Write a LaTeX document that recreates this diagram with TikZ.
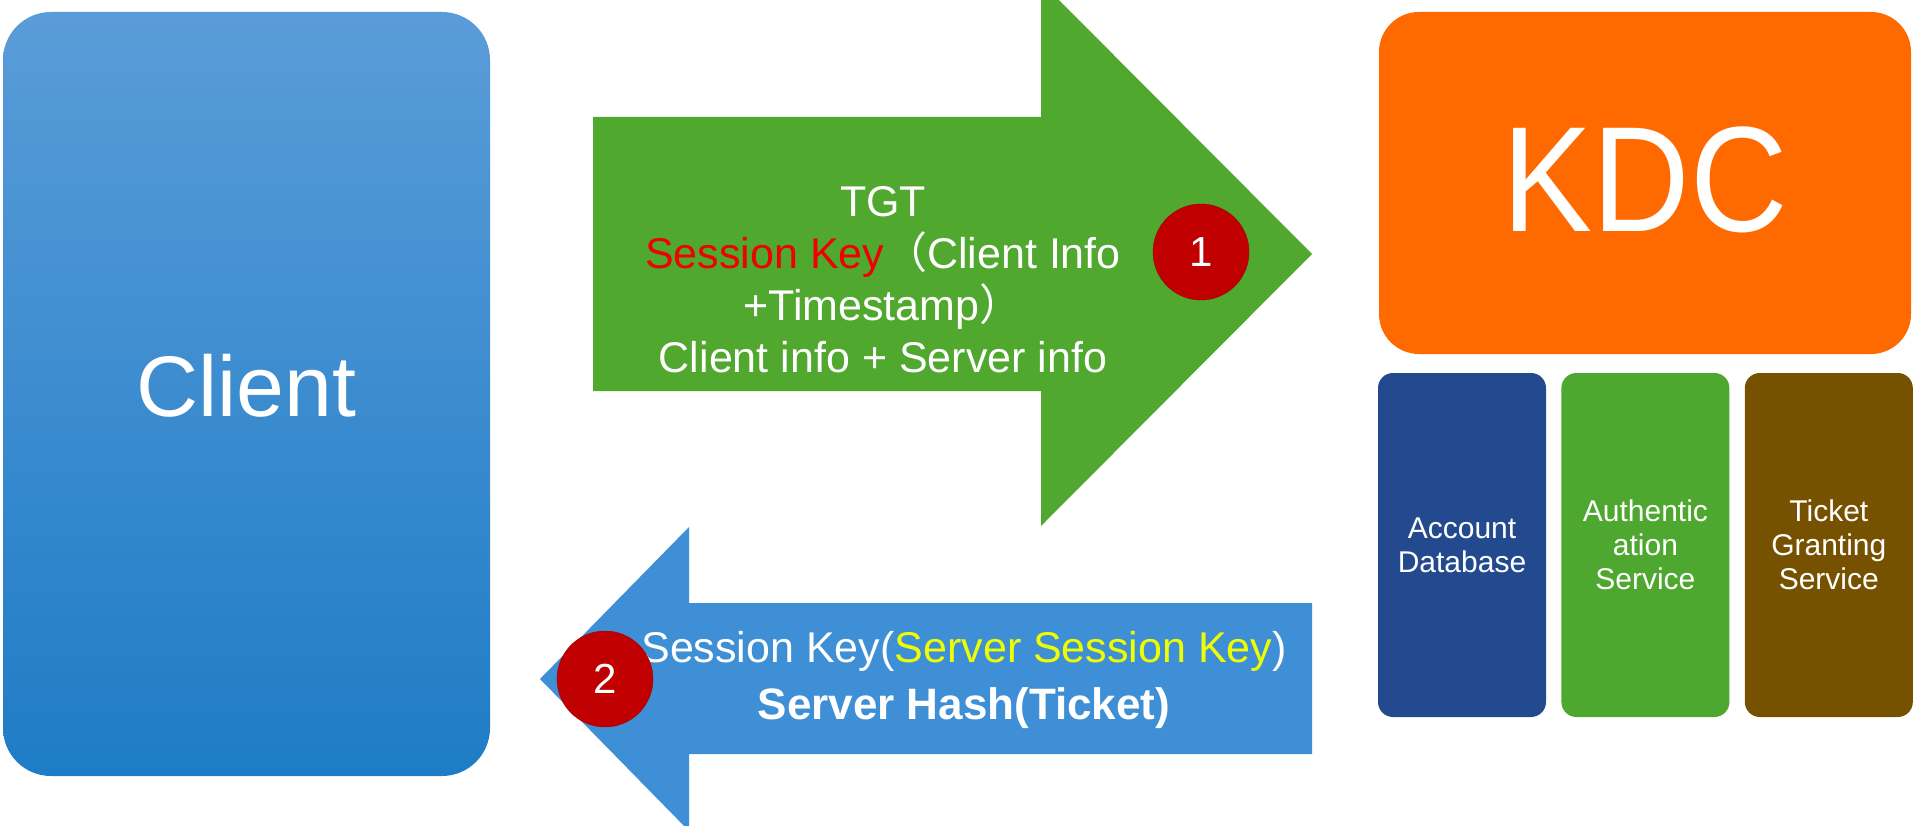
\documentclass[tikz,border=0pt]{standalone}
\usepackage{fontspec}
\setmainfont{Liberation Sans}
\newfontfamily\cjk{Noto Sans CJK SC}
\usetikzlibrary{positioning}
\usetikzlibrary{calc}

\definecolor{clienttop}{HTML}{5A9CD8}
\definecolor{clientbot}{HTML}{1E7CC6}
\definecolor{reqgreen}{HTML}{50A82E}
\definecolor{repblue}{HTML}{3E8FD6}
\definecolor{badgered}{HTML}{C00000}
\definecolor{kdcorange}{HTML}{FF6A00}
\definecolor{dbblue}{HTML}{234A8F}
\definecolor{asgreen}{HTML}{4EA72E}
\definecolor{tgsbrown}{HTML}{765200}
\definecolor{keyred}{HTML}{F00000}
\definecolor{keyyellow}{HTML}{F0FF00}

\tikzset{
  part/.style={rectangle, rounded corners=15pt, minimum width=168pt, minimum height=344pt,
    inner sep=0pt, text=white, align=center, font=\fontsize{30}{34}\selectfont},
  badge/.style={circle, fill=badgered, draw=badgered!85!black, minimum size=96pt,
    inner sep=0pt, text=white, font=\fontsize{42}{44}\selectfont},
  msg/.style={text=white, align=center, inner sep=0pt}
}

\begin{document}
\begin{tikzpicture}[x=1pt, y=-1pt]
  \useasboundingbox (0,0) rectangle (1932,826);
  \clip (0,0) rectangle (1932,826);
  \fill[white] (0,0) rectangle (1932,826);

    %----------------------------------------------------------
    % Client and KDC
    %----------------------------------------------------------
  \node[rectangle, rounded corners=48pt, top color=clienttop, bottom color=clientbot,
    minimum width=487pt, minimum height=764pt, inner sep=0pt] (client) at (246.5,394) {};
  \node[text=white, font=\fontsize{86}{100}\selectfont, inner sep=0pt]
    (clientname) at ([yshift=8pt]client.center) {Client};

  \node[rectangle, rounded corners=40pt, fill=kdcorange, minimum width=532pt,
    minimum height=342pt, inner sep=0pt] (kdc) at (1645,183) {};
  \node[text=white, font=\fontsize{150}{160}\selectfont, inner sep=0pt]
    (kdcname) at ([yshift=3pt]kdc.center) {\scalebox{0.9}[1]{KDC}};

  % the three parts of the KDC
  \node[part, fill=dbblue] (db) at (1462,545) {Account\\Database};
  \node[part, fill=asgreen, right=15pt of db] (as) {Authentic\\ation\\Service};
  \node[part, fill=tgsbrown, right=15pt of as] (tgs) {Ticket\\Granting\\Service};

    %----------------------------------------------------------
    % Drawing the two messages
    %----------------------------------------------------------
  \fill[reqgreen] (593,117) -- (1041,117) -- (1041,-18) -- (1312,254)
    -- (1041,526) -- (1041,391) -- (593,391) -- cycle;
  \fill[repblue] (1312,603) -- (689,603) -- (689,527) -- (540,679)
    -- (689,831) -- (689,754) -- (1312,754) -- cycle;

  \node[msg, font=\fontsize{43}{52}\selectfont] (request) at (883,280)
    {TGT\\
     \textcolor{keyred}{Session Key}{\cjk （}Client Info\\
     +Timestamp{\cjk ）}\\
     Client info + Server info};
  \node[msg, font=\fontsize{43}{57}\selectfont] (reply) at (964,680)
    {Session Key(\textcolor{keyyellow}{Server Session Key})\\
     {\bfseries\fontsize{44}{57}\selectfont Server Hash(Ticket)}};

  % step numbers
  \node[badge] (one) at (1201,252) {1};
  \node[badge] (two) at (605,679) {2};
\end{tikzpicture}
\end{document}
